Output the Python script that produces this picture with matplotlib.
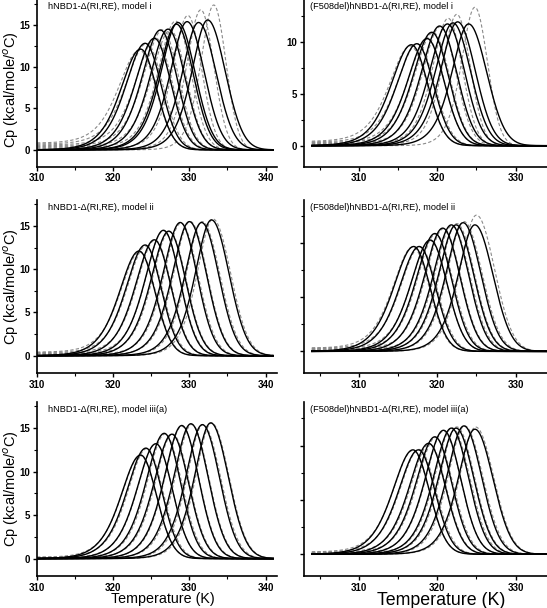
import numpy as np
import matplotlib.pyplot as plt
from matplotlib.ticker import MultipleLocator

plt.rcParams['font.family'] = ['Liberation Sans', 'DejaVu Sans']

# peak positions (K) and peak heights (kcal/mole/oC)
# solid = model fit, dashed = measured scans

# hNBD1, model i
a_tm = [323.6, 324.2, 325.4, 326.2, 327.2, 328.3, 328.5, 329.7, 331.2, 332.4]
a_h = [12.1, 12.8, 13.4, 14.4, 14.5, 15.1, 15.3, 15.4, 15.3, 15.6]
a_dash_tm = [323.5, 324.4, 325.6, 326.5, 327.5, 328.2, 329.8, 331.5, 333.2]
a_dash_h = [11.8, 12.6, 13.3, 14.3, 14.3, 15.4, 16.1, 16.8, 17.4]
a_dash_base = [0.8, 0.7, 0.6, 0.5, 0.4, 0.3, 0.2, 0.1, 0.0]

# (F508del)hNBD1, model i
b_tm = [316.7, 317.4, 318.7, 319.3, 320.3, 321.3, 322.0, 322.6, 324.0]
b_h = [9.7, 9.8, 10.3, 10.9, 11.5, 11.7, 11.8, 11.9, 11.7]
b_dash_tm = [316.6, 317.5, 318.8, 319.5, 320.4, 321.4, 322.5, 324.8]
b_dash_h = [9.5, 9.7, 10.2, 10.8, 11.4, 12.2, 12.6, 13.3]
b_dash_base = [0.4, 0.35, 0.3, 0.3, 0.2, 0.2, 0.1, 0.0]

# hNBD1, model ii
c_tm = [323.4, 324.2, 325.4, 326.6, 327.3, 328.8, 330.0, 331.6, 332.9]
c_h = [12.1, 12.8, 13.4, 14.5, 14.4, 15.4, 15.5, 15.4, 15.7]
c_dash_tm = [323.5, 324.3, 325.5, 326.6, 327.4, 328.9, 330.1, 331.7, 333.1]
c_dash_h = [11.9, 12.6, 13.3, 14.4, 14.3, 15.3, 15.5, 15.5, 15.8]
c_dash_base = [0.4, 0.35, 0.3, 0.25, 0.2, 0.15, 0.1, 0.0, 0.0]

# (F508del)hNBD1, model ii
d_tm = [317.0, 317.7, 319.1, 319.7, 320.7, 321.8, 322.4, 323.3, 324.8]
d_h = [9.7, 9.7, 10.3, 10.9, 11.4, 11.7, 11.7, 11.9, 11.7]
d_dash_tm = [316.9, 317.8, 319.1, 319.8, 320.8, 321.9, 322.5, 323.4, 325.0]
d_dash_h = [9.6, 9.6, 10.2, 10.8, 11.3, 11.6, 11.8, 12.0, 12.6]
d_dash_base = [0.3, 0.3, 0.25, 0.2, 0.2, 0.15, 0.1, 0.05, 0.0]

# hNBD1, model iii(a)
e_tm = [323.6, 324.3, 325.6, 326.7, 327.7, 329.0, 330.2, 331.7, 332.8]
e_h = [11.9, 12.7, 13.2, 14.4, 14.3, 15.3, 15.5, 15.4, 15.6]
e_dash_tm = [323.6, 324.4, 325.6, 326.8, 327.8, 329.0, 330.3, 331.8, 332.9]
e_dash_h = [11.8, 12.6, 13.2, 14.3, 14.3, 15.2, 15.4, 15.4, 15.6]
e_dash_base = [0.15, 0.15, 0.1, 0.1, 0.1, 0.05, 0.05, 0.0, 0.0]

# (F508del)hNBD1, model iii(a)
f_tm = [316.9, 317.6, 318.9, 319.7, 320.8, 321.8, 322.4, 323.4, 324.8]
f_h = [9.6, 9.6, 10.2, 10.8, 11.4, 11.6, 11.6, 11.8, 11.5]
f_dash_tm = [316.9, 317.7, 319.0, 319.8, 320.8, 321.9, 322.5, 323.5, 324.9]
f_dash_h = [9.5, 9.6, 10.1, 10.7, 11.3, 11.6, 11.7, 11.8, 11.7]
f_dash_base = [0.2, 0.2, 0.15, 0.15, 0.1, 0.1, 0.05, 0.0, 0.0]

# peak widths (K): low-T side and high-T side, from low Tm to high Tm
solid_wl = [1.75, 1.72, 1.68, 1.64, 1.6, 1.56, 1.52, 1.48, 1.44, 1.4]
solid_wr = [2.1, 2.1, 2.15, 2.15, 2.2, 2.2, 2.25, 2.25, 2.3, 2.3]
# measured scans of model i panels sharpen at high Tm
dash_wl = [1.85, 1.8, 1.75, 1.7, 1.65, 1.55, 1.35, 1.25, 1.15]
dash_wr = [2.15, 2.15, 2.15, 2.1, 2.1, 2.0, 1.8, 1.7, 1.6]

titles = ["hNBD1-\u0394(RI,RE), model i", "(F508del)hNBD1-\u0394(RI,RE), model i",
          "hNBD1-\u0394(RI,RE), model ii", "(F508del)hNBD1-\u0394(RI,RE), model ii",
          "hNBD1-\u0394(RI,RE), model iii(a)", "(F508del)hNBD1-\u0394(RI,RE), model iii(a)"]


def peak(T, tm, h, wl, wr):
    """DSC peak: sech^2 rise on the low-T side, gaussian fall on the high-T side"""
    z = T - tm
    left = 1.0 / np.cosh(z / (2 * wl)) ** 2
    right = np.exp(-0.5 * (z / wr) ** 2)
    return h * np.where(z < 0, left, right)


def draw_panel(ax, T, tm, h, dtm, dh, dbase, title, dwl, dwr):
    for i in range(len(dtm)):
        y = peak(T, dtm[i], dh[i], dwl[i], dwr[i])
        y = y + dbase[i] / (1 + np.exp((T - dtm[i] + 2) / 1.5))
        ax.plot(T, y, color='#8a8a8a', lw=0.8, ls=(0, (3, 2)))
    for i in range(len(tm)):
        ax.plot(T, peak(T, tm[i], h[i], solid_wl[i], solid_wr[i]), color='black', lw=1.0)
    ax.text(0.045, 0.985, title, transform=ax.transAxes, ha='left', va='top', fontsize=6.6)
    ax.spines['top'].set_visible(False)
    ax.spines['right'].set_visible(False)
    ax.spines['left'].set_linewidth(1.2)
    ax.spines['bottom'].set_linewidth(1.2)
    ax.yaxis.set_major_locator(MultipleLocator(5))
    ax.yaxis.set_minor_locator(MultipleLocator(2.5))
    ax.xaxis.set_major_locator(MultipleLocator(10))
    ax.xaxis.set_minor_locator(MultipleLocator(5))
    ax.tick_params(which='major', direction='out', length=3, width=1, labelsize=7, pad=2)
    ax.tick_params(which='minor', direction='out', length=2, width=0.8)
    for lab in ax.get_xticklabels() + ax.get_yticklabels():
        lab.set_fontweight('bold')


fig = plt.figure(figsize=(5.47, 6.08), dpi=100)
H = 608.0
W = 547.0
rows = [(0, 166.5), (200, 373), (402, 576)]
left_cols = (37, 277)
right_cols = (304, 547)

T_left = np.linspace(310, 341, 800)
T_right = np.linspace(304, 334, 800)

panels = [
    (a_tm, a_h, a_dash_tm, a_dash_h, a_dash_base),
    (b_tm, b_h, b_dash_tm, b_dash_h, b_dash_base),
    (c_tm, c_h, c_dash_tm, c_dash_h, c_dash_base),
    (d_tm, d_h, d_dash_tm, d_dash_h, d_dash_base),
    (e_tm, e_h, e_dash_tm, e_dash_h, e_dash_base),
    (f_tm, f_h, f_dash_tm, f_dash_h, f_dash_base),
]

for k, (tm, h, dtm, dh, dbase) in enumerate(panels):
    r = k // 2
    is_right = k % 2 == 1
    top, bot = rows[r]
    x0, x1 = right_cols if is_right else left_cols
    ax = fig.add_axes([x0 / W, 1 - bot / H, (x1 - x0) / W, (bot - top) / H])
    n = len(dtm)
    if r == 0:
        dwl, dwr = dash_wl[-n:], dash_wr[-n:]
    else:
        dwl, dwr = solid_wl[-n:], solid_wr[-n:]
    draw_panel(ax, T_right if is_right else T_left, tm, h, dtm, dh, dbase, titles[k], dwl, dwr)
    if is_right:
        ax.set_xlim(303, 334)
        ax.set_ylim(-2, 14)
        if r > 0:
            ax.set_yticklabels([])
        ax.texts[0].set_position((0.025, 0.985))
    else:
        ax.set_xlim(310, 341.5)
        ax.set_ylim(-2, 18)
        ax.set_ylabel("Cp (kcal/mole/$^o$C)", fontsize=10.5)
        ax.yaxis.set_label_coords(-0.068, 0.46 if r == 0 else 0.5)
    if r == 2:
        if is_right:
            ax.set_xlabel("Temperature (K)", fontsize=12.8)
            ax.xaxis.set_label_coords(0.564, -0.09)
        else:
            ax.set_xlabel("Temperature (K)", fontsize=10.3)
            ax.xaxis.set_label_coords(0.525, -0.09)

fig.savefig("out.png", dpi=100)
